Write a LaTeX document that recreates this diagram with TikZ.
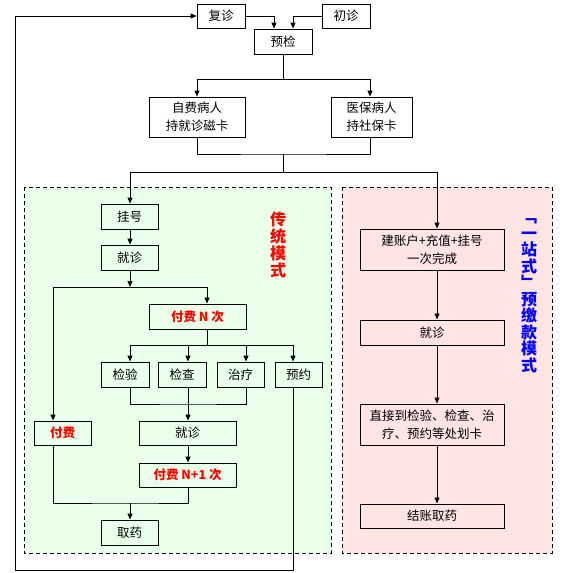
\documentclass[tikz,border=0pt]{standalone}
\usepackage{fontspec}
\setmainfont{Noto Sans CJK SC}
\usetikzlibrary{arrows.meta}
\definecolor{greenbg}{RGB}{234,255,234}
\definecolor{pinkbg}{RGB}{255,228,228}
\begin{document}
\begin{tikzpicture}[x=1pt,y=-1pt,
  box/.style={draw, line width=1pt, inner sep=0pt, align=center, font=\fontsize{12.5}{18}\selectfont},
  redbox/.style={box, text=red, font=\fontsize{12.5}{18}\selectfont\bfseries},
  arr/.style={line width=1pt, -{Triangle[length=6pt,width=5pt]}},
  ln/.style={line width=1pt},
  zone/.style={line width=1pt, dash pattern=on 4pt off 3pt},
  title/.style={align=center, font=\fontsize{16}{17}\selectfont\bfseries}
]
\useasboundingbox (0,0) rectangle (569,573);
% zones
\draw[zone, fill=greenbg] (24,187) rectangle (331,553);
\draw[zone, fill=pinkbg] (342,187) rectangle (552,553);
\node[title, text=red] (tt1) at (278,245) {传\\统\\模\\式};
\node[title, text=blue, font=\fontsize{16}{16.5}\selectfont\bfseries] (tt2) at (529,296) {﹁\\一\\站\\式\\﹂\\预\\缴\\款\\模\\式};
% nodes
\node[box, minimum width=48, minimum height=24] (fuzhen) at (221,16) {复诊};
\node[box, minimum width=48, minimum height=24] (chuzhen) at (346,16) {初诊};
\node[box, minimum width=58, minimum height=25] (yujian) at (283,41.5) {预检};
\node[box, minimum width=96, minimum height=40] (zifei) at (197,117) {自费病人\\持就诊磁卡};
\node[box, minimum width=81, minimum height=40] (yibao) at (371.5,117) {医保病人\\持社保卡};
\node[box, minimum width=57, minimum height=25] (guahao) at (129.5,216.5) {挂号};
\node[box, minimum width=57, minimum height=25] (jiuzhenA) at (129.5,257.5) {就诊};
\node[redbox, minimum width=97, minimum height=25] (fufeiN) at (197.5,316.5) {付费 N 次};
\node[box, minimum width=48, minimum height=25] (jianyan) at (125,374.5) {检验};
\node[box, minimum width=48, minimum height=25] (jiancha) at (182,374.5) {检查};
\node[box, minimum width=47, minimum height=25] (zhiliao) at (240.5,374.5) {治疗};
\node[box, minimum width=47, minimum height=25] (yuyue) at (298.5,374.5) {预约};
\node[redbox, minimum width=57, minimum height=24] (fufei) at (62.5,433) {付费};
\node[box, minimum width=97, minimum height=24] (jiuzhenB) at (187.5,433) {就诊};
\node[redbox, minimum width=97, minimum height=24] (fufeiN1) at (187.5,475) {付费 N+1 次};
\node[box, minimum width=57, minimum height=25] (quyao) at (129.5,532.5) {取药};
\node[box, minimum width=144, minimum height=41] (jianzhang) at (432,249.5) {建账户+充值+挂号\\一次完成};
\node[box, minimum width=144, minimum height=25] (jiuzhenC) at (432,332.5) {就诊};
\node[box, minimum width=144, minimum height=41] (zhijie) at (432,424.5) {直接到检验、检查、治\\疗、预约等处划卡};
\node[box, minimum width=144, minimum height=24] (jiezhang) at (432,516) {结账取药};
% junctions
\coordinate (s1) at (283,79);
\coordinate (m1) at (283,154);
\coordinate (m2) at (283,172);
\coordinate (j1) at (130,287);
\coordinate (j2) at (207,345);
\coordinate (j3) at (188,404);
\coordinate (j4) at (130,503);
\coordinate (l1) at (15,570);
% connectors
\draw[arr] (fuzhen.east) -| ([xshift=-9]yujian.north);
\draw[arr] (chuzhen.west) -| ([xshift=10]yujian.north);
\draw[ln] (yujian.south) -- (s1);
\draw[arr] (s1) -| (zifei.north);
\draw[arr] (s1) -| ([xshift=-1.5]yibao.north);
\draw[ln] (zifei.south) |- (m1) -| ([xshift=-1.5]yibao.south);
\draw[ln] (m1) -- (m2);
\draw[arr] (m2) -| ([xshift=0.5]guahao.north);
\draw[arr] (m2) -| ([xshift=5]jianzhang.north);
\draw[arr] ([xshift=0.5]guahao.south) -- ([xshift=0.5]jiuzhenA.north);
\draw[arr] ([xshift=0.5]jiuzhenA.south) -- (j1);
\draw[arr] (j1) -| ([xshift=9.5]fufeiN.north);
\draw[arr] (j1) -| ([xshift=-9.5]fufei.north);
\draw[ln] ([xshift=9.5]fufeiN.south) -- (j2);
\draw[arr] (j2) -| ([xshift=5]jianyan.north);
\draw[arr] (j2) -| ([xshift=6]jiancha.north);
\draw[arr] (j2) -| ([xshift=5.5]zhiliao.north);
\draw[arr] (j2) -| ([xshift=-5.5]yuyue.north);
\draw[ln] ([xshift=5]jianyan.south) |- (j3) -| ([xshift=5.5]zhiliao.south);
\draw[arr] ([xshift=6]jiancha.south) -- ([xshift=0.5]jiuzhenB.north);
\draw[arr] ([xshift=0.5]jiuzhenB.south) -- ([xshift=0.5]fufeiN1.north);
\draw[ln] ([xshift=-9.5]fufei.south) |- (j4) -| ([xshift=0.5]fufeiN1.south);
\draw[arr] (j4) -- ([xshift=0.5]quyao.north);
\draw[arr] ([xshift=-5.5]yuyue.south) |- (l1) |- (fuzhen.west);
\draw[arr] ([xshift=5]jianzhang.south) -- ([xshift=5]jiuzhenC.north);
\draw[arr] ([xshift=5]jiuzhenC.south) -- ([xshift=5]zhijie.north);
\draw[arr] ([xshift=5]zhijie.south) -- ([xshift=5]jiezhang.north);
\end{tikzpicture}
\end{document}
